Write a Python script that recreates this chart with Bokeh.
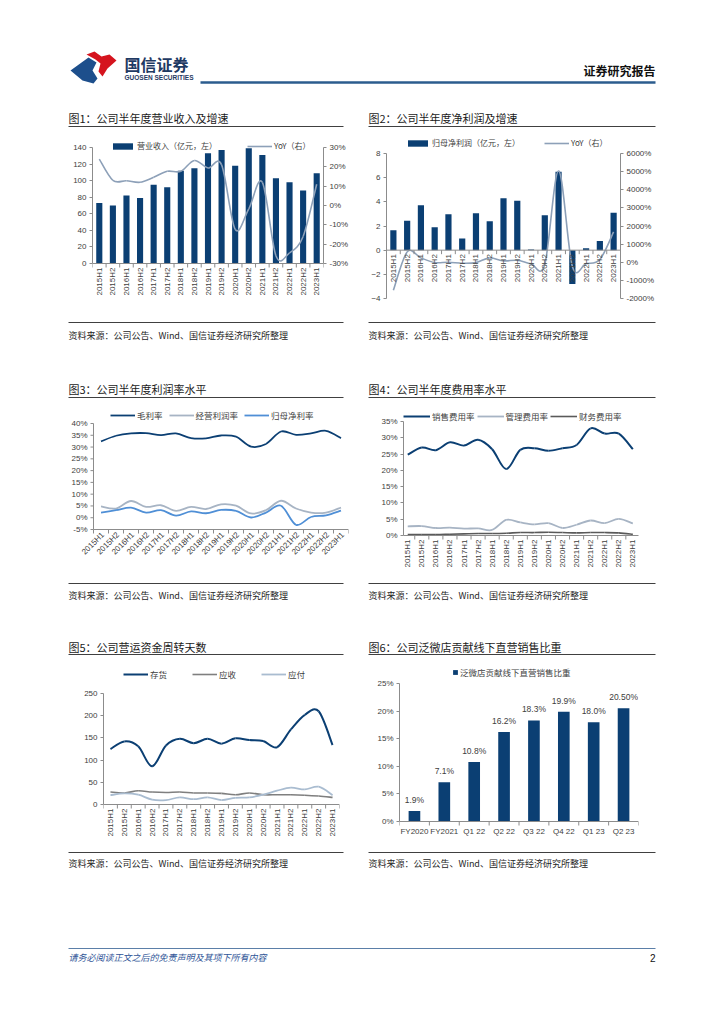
import math
from bokeh.plotting import figure
from bokeh.layouts import column, row
from bokeh.models import (Range1d, LinearAxis, FixedTicker, PrintfTickFormatter,
                          Legend, LegendItem, ColumnDataSource)
from bokeh.embed import file_html
from bokeh.resources import INLINE
from bokeh.core.properties import value

# ---------------- data ----------------
periods = ["2015H1", "2015H2", "2016H1", "2016H2", "2017H1", "2017H2", "2018H1", "2018H2",
           "2019H1", "2019H2", "2020H1", "2020H2", "2021H1", "2021H2", "2022H1", "2022H2", "2023H1"]
revenue = [73, 70, 82, 79, 95, 92, 112, 115, 133, 137, 118, 139, 131, 103, 98, 88, 109]
revenue_yoy = [24, 13, 12.8, 12, 14.6, 17.7, 17.7, 23.3, 19.4, 21, -12.3, -1.7, 12, -26, -24.5, -16, 11]
net_profit = [1.65, 2.43, 3.72, 1.9, 2.98, 0.97, 3.06, 2.4, 4.3, 4.08, 0.06, 2.9, 6.5, -2.8, 0.15, 0.75, 3.1]
net_profit_yoy = [-1545, 570, 240, -20, 0, -55, -20, 240, 75, 110, -90, -110, 5040, -220, -75, 150, 1675]
gross_margin = [32.4, 34.8, 35.8, 35.9, 35.1, 35.8, 33.8, 33.7, 34.9, 34.4, 30.2, 31.3, 36.6, 35.2, 35.8, 36.9, 33.8]
op_margin = [4.8, 3.9, 7.1, 4.6, 5.3, 2.9, 4.6, 3.7, 5.7, 5.1, 1.8, 3.2, 7.2, 3.9, 2.2, 2.2, 4.3]
net_margin = [2.2, 3.2, 4.3, 2.2, 3.2, 0.9, 2.7, 1.9, 3.3, 2.9, 0.1, 2.2, 5.1, -3.0, 0.3, 1.0, 3.0]
margin_ticks = [-5, 0, 5, 10, 15, 20, 25, 30, 35, 40]
selling_ratio = [24.8, 27.0, 26.2, 28.6, 27.6, 29.4, 26.5, 20.4, 26.3, 26.8, 26.0, 26.8, 27.8, 32.9, 31.3, 31.3, 26.5]
admin_ratio = [2.8, 2.9, 2.3, 2.4, 2.1, 2.2, 1.7, 4.8, 4.0, 3.4, 3.8, 2.3, 3.3, 4.6, 3.8, 5.1, 3.7]
fin_ratio = [0.3, 0.3, 0.3, 0.4, 0.5, 0.6, 0.6, 0.7, 0.9, 0.9, 1.0, 0.9, 0.8, 0.9, 0.9, 0.8, 0.4]
inventory_days = [125, 142, 131, 86, 133, 148, 138, 148, 137, 149, 145, 143, 129, 169, 202, 210, 134]
receivable_days = [28, 26, 31, 28, 27, 28, 26, 26, 25, 22, 26, 22, 22, 22, 21, 19, 16]
payable_days = [21, 25, 22, 11, 10, 16, 12, 16, 10, 15, 16, 22, 31, 38, 34, 40, 21]
share_periods = ["FY2020", "FY2021", "Q1 22", "Q2 22", "Q3 22", "Q4 22", "Q1 23", "Q2 23"]
share_values = [1.9, 7.1, 10.8, 16.2, 18.3, 19.9, 18.0, 20.5]
share_labels = ["1.9%", "7.1%", "10.8%", "16.2%", "18.3%", "19.9%", "18.0%", "20.50%"]

NAVY = "#0b3f73"
GRAYBLUE = "#8da0b8"
LIGHTGRAY = "#a7b4c4"
MIDBLUE = "#4f8fd6"
DARKGRAY = "#5a5a5a"
AXIS = "#8c8c8c"
TXT = "#404040"
CJK = "Noto Sans CJK SC"
NUM = "Liberation Sans"

idx = list(range(len(periods)))
sidx = list(range(len(share_periods)))


def smooth_source(ys):
    n = len(ys)
    xs = list(range(n))
    d = {k: [] for k in ["x0", "y0", "x1", "y1", "cx0", "cy0", "cx1", "cy1"]}
    for i in range(n - 1):
        im = max(i - 1, 0)
        ip = min(i + 2, n - 1)
        d["x0"].append(xs[i]); d["y0"].append(ys[i])
        d["x1"].append(xs[i + 1]); d["y1"].append(ys[i + 1])
        d["cx0"].append(xs[i] + (xs[i + 1] - xs[im]) / 6)
        d["cy0"].append(ys[i] + (ys[i + 1] - ys[im]) / 6)
        d["cx1"].append(xs[i + 1] - (xs[ip] - xs[i]) / 6)
        d["cy1"].append(ys[i + 1] - (ys[ip] - ys[i]) / 6)
    return ColumnDataSource(d)


def smooth_line(p, ys, color, width, **kw):
    src = smooth_source(ys)
    return p.bezier(x0="x0", y0="y0", x1="x1", y1="y1", cx0="cx0", cy0="cy0",
                    cx1="cx1", cy1="cy1", source=src, line_color=color, line_width=width, **kw)


def extended(lo, hi, geo):
    # range whose [lo, hi] part occupies data_px pixels, with head/foot pixels of room
    data_px, head, foot = geo
    span = hi - lo
    return Range1d(lo - span * foot / data_px, hi + span * head / data_px)


def chart(w, h, left, right, head, foot, xr, yr, **kw):
    geo = (h - head - foot, head, foot)
    p = figure(width=w, height=h, x_range=Range1d(*xr), y_range=extended(yr[0], yr[1], geo),
               output_backend="svg", toolbar_location=None, x_axis_location=None,
               min_border_left=left, min_border_right=right,
               min_border_top=0, min_border_bottom=0, **kw)
    p.outline_line_color = None
    p.grid.visible = False
    p.background_fill_color = "white"
    p.border_fill_color = "white"
    return p, geo


def style_axis(ax):
    ax.axis_line_color = AXIS
    ax.major_tick_line_color = AXIS
    ax.major_tick_out = 3
    ax.major_tick_in = 0
    ax.minor_tick_line_color = None
    ax.major_label_text_font_size = "8px"
    ax.major_label_text_color = TXT
    ax.major_label_text_font = NUM
    ax.major_label_standoff = 3


def y_axis(ax, lo, hi, step, fmt=None):
    style_axis(ax)
    ax.bounds = (lo, hi)
    ax.ticker = FixedTicker(ticks=list(range(lo, hi + 1, step)))
    if fmt:
        ax.formatter = PrintfTickFormatter(format=fmt)


def cat_axis(p, labels, base, mode):
    n = len(labels)
    p.segment(x0=[-0.5], y0=[base], x1=[n - 0.5], y1=[base], line_color=AXIS, line_width=1)
    p.ray(x=[i - 0.5 for i in range(n + 1)], y=base, length=4, length_units="screen",
          angle=-math.pi / 2, line_color=AXIS, line_width=1)
    common = dict(text_font=value(NUM), text_font_size="8px", text_color=TXT)
    if mode == "vertical":
        p.text(x=list(range(n)), y=[base] * n, text=labels, angle=math.pi / 2, text_align="right",
               text_baseline="middle", y_offset=4, **common)
    elif mode == "diagonal":
        p.text(x=list(range(n)), y=[base] * n, text=labels, angle=math.pi / 4, text_align="right",
               text_baseline="middle", y_offset=4, x_offset=2, **common)
    else:
        p.text(x=list(range(n)), y=[base] * n, text=labels, text_align="center",
               text_baseline="top", y_offset=5, **common)


def make_legend(items, loc, spacing, glyph_w=25, glyph_h=8, size="8px"):
    lg = Legend(items=items, orientation="horizontal", location=loc,
                padding=0, margin=0, spacing=spacing, label_standoff=2,
                glyph_width=glyph_w, glyph_height=glyph_h,
                label_text_font=CJK, label_text_font_size=size, label_text_color=TXT,
                label_height=10, background_fill_alpha=0, border_line_color=None)
    return lg


# ---------------- chart 1 ----------------
p1, geo1 = chart(358, 180, 92, 35, 9, 55, (-0.5, 16.5), (0, 140))
p1.extra_y_ranges = {"yoy": extended(-30, 30, geo1)}
b1 = p1.vbar(x=idx, top=revenue, width=0.45, fill_color=NAVY, line_color=None)
l1 = smooth_line(p1, revenue_yoy, GRAYBLUE, 1.6, y_range_name="yoy")
cat_axis(p1, periods, 0, "vertical")
y_axis(p1.yaxis[0], 0, 140, 20)
ax1r = LinearAxis(y_range_name="yoy")
y_axis(ax1r, -30, 30, 10, "%d%%")
p1.add_layout(ax1r, "right")
p1.add_layout(make_legend([LegendItem(label="营业收入（亿元，左）", renderers=[b1]),
                           LegendItem(label="YoY（右）", renderers=[l1])], (18, 167), 30))

# ---------------- chart 2 ----------------
p2, geo2 = chart(358, 180, 28, 96, 15, 20, (-0.5, 16.5), (-4, 8))
p2.extra_y_ranges = {"yoy": extended(-2000, 6000, geo2)}
b2 = p2.vbar(x=idx, top=net_profit, width=0.45, fill_color=NAVY, line_color=None)
l2 = smooth_line(p2, net_profit_yoy, GRAYBLUE, 1.6, y_range_name="yoy")
cat_axis(p2, periods, 0, "vertical")
y_axis(p2.yaxis[0], -4, 8, 2)
ax2r = LinearAxis(y_range_name="yoy")
y_axis(ax2r, -2000, 6000, 1000, "%d%%")
p2.add_layout(ax2r, "right")
p2.add_layout(make_legend([LegendItem(label="归母净利润（亿元，左）", renderers=[b2]),
                           LegendItem(label="YoY（右）", renderers=[l2])], (19, 170), 24))

# ---------------- chart 3 ----------------
# frame starts at x=60 so the slanted first label is not clipped; y axis drawn at x=-0.5
p3, geo3 = chart(358, 170, 60, 10, 15, 49, (-2.7, 16.5), (-5, 40), y_axis_location=None)
g3a = smooth_line(p3, gross_margin, NAVY, 1.8)
g3b = smooth_line(p3, op_margin, LIGHTGRAY, 1.8)
g3c = smooth_line(p3, net_margin, MIDBLUE, 1.8)
cat_axis(p3, periods, -5, "diagonal")
p3.segment(x0=[-0.5], y0=[margin_ticks[0]], x1=[-0.5], y1=[margin_ticks[-1]], line_color=AXIS)
p3.ray(x=-0.5, y=margin_ticks, length=3, length_units="screen", angle=math.pi, line_color=AXIS)
p3.text(x=[-0.5] * len(margin_ticks), y=margin_ticks, text=[f"{t}%" for t in margin_ticks],
        text_align="right", text_baseline="middle", x_offset=-6,
        text_font=value(NUM), text_font_size="8px", text_color=TXT)
p3.add_layout(make_legend([LegendItem(label="毛利率", renderers=[g3a]),
                           LegendItem(label="经营利润率", renderers=[g3b]),
                           LegendItem(label="归母净利率", renderers=[g3c])], (50, 157), 6,
                          size="8.5px"))

# ---------------- chart 4 ----------------
p4, geo4 = chart(358, 170, 45, 78, 13, 43, (-0.3, 16.4), (0, 35))
g4a = smooth_line(p4, selling_ratio, NAVY, 2)
g4b = smooth_line(p4, admin_ratio, LIGHTGRAY, 1.8)
g4c = smooth_line(p4, fin_ratio, DARKGRAY, 1.6)
cat_axis(p4, periods, 0, "vertical")
y_axis(p4.yaxis[0], 0, 35, 5, "%d%%")
p4.add_layout(make_legend([LegendItem(label="销售费用率", renderers=[g4a]),
                           LegendItem(label="管理费用率", renderers=[g4b]),
                           LegendItem(label="财务费用率", renderers=[g4c])], (0, 156), 2,
                          glyph_w=27, size="8.5px"))

# ---------------- chart 5 ----------------
p5, geo5 = chart(358, 186, 103, 19, 31, 44, (-0.5, 16.5), (0, 250))
g5a = smooth_line(p5, inventory_days, NAVY, 2)
g5b = smooth_line(p5, receivable_days, "#7f7f7f", 1.6)
g5c = smooth_line(p5, payable_days, "#a9bcd0", 1.8)
cat_axis(p5, periods, 0, "vertical")
y_axis(p5.yaxis[0], 0, 250, 50)
p5.add_layout(make_legend([LegendItem(label="存货", renderers=[g5a]),
                           LegendItem(label="应收", renderers=[g5b]),
                           LegendItem(label="应付", renderers=[g5c])], (20, 168), 22,
                          size="8.5px"))

# ---------------- chart 6 ----------------
p6, geo6 = chart(358, 186, 41, 78, 21, 27, (-0.5, 7.5), (0, 25))
b6 = p6.vbar(x=sidx, top=share_values, width=0.39, fill_color=NAVY, line_color=None)
p6.text(x=sidx, y=share_values, text=share_labels, text_align="center", text_baseline="bottom",
        y_offset=-6, text_font=value(NUM), text_font_size="8.5px", text_color=TXT)
cat_axis(p6, share_periods, 0, "horizontal")
y_axis(p6.yaxis[0], 0, 25, 5, "%d%%")
p6.add_layout(make_legend([LegendItem(label="泛微店贡献线下直营销售比重", renderers=[b6])],
                          (53, 170), 0, glyph_w=6, glyph_h=6, size="8.5px"))


# ---------------- page chrome ----------------
def chrome(h, ytop):
    p = figure(width=716, height=h, x_range=Range1d(0, 716), y_range=Range1d(ytop + h, ytop),
               x_axis_type=None, y_axis_type=None, min_border=0,
               output_backend="svg", toolbar_location=None)
    p.outline_line_color = None
    p.grid.visible = False
    return p


def txt(p, x, y, s, size="9px", font=CJK, color="#262626", align="left", style="normal"):
    p.text(x=[x], y=[y], text=[s], text_font=value(font), text_font_size=size,
           text_color=color, text_align=align, text_baseline="middle", text_font_style=style)


def hline(p, x0, x1, y, color="#404040", width=1):
    p.segment(x0=[x0], y0=[y], x1=[x1], y1=[y], line_color=color, line_width=width)


SOURCE = "资料来源：公司公告、Wind、国信证券经济研究所整理"

hdr = chrome(138, 0)
hdr.patch(x=[70, 88, 96, 92, 97, 93, 82], y=[70, 57, 62, 70, 78, 83, 80], fill_color="#1d4f8c",
          line_color=None)
hdr.patch(x=[86, 94, 101, 109, 116, 107, 102, 98, 100, 95], y=[54, 51, 56, 54, 60, 68, 76, 71, 63, 59],
          fill_color="#d5141e", line_color=None)
txt(hdr, 124, 63, "国信证券", size="16px", color="#1f3a63", style="bold")
txt(hdr, 124, 77, "GUOSEN SECURITIES", size="6.5px", font=NUM, color="#1f3a63", style="bold")
txt(hdr, 655, 70, "证券研究报告", size="12px", color="#111111", align="right", style="bold")
hline(hdr, 200, 655, 82, color="#2b5c8e", width=2.5)
txt(hdr, 68, 117, "图1：公司半年度营业收入及增速", size="11px", color="#1a1a1a")
txt(hdr, 368, 117, "图2：公司半年度净利润及增速", size="11px", color="#1a1a1a")
hline(hdr, 68, 343, 126)
hline(hdr, 368, 655, 126)

c1 = chrome(90, 318)
hline(c1, 68, 343, 322)
hline(c1, 368, 655, 322)
txt(c1, 68, 335, SOURCE)
txt(c1, 368, 335, SOURCE)
txt(c1, 68, 388, "图3：公司半年度利润率水平", size="11px", color="#1a1a1a")
txt(c1, 368, 388, "图4：公司半年度费用率水平", size="11px", color="#1a1a1a")
hline(c1, 68, 343, 397)
hline(c1, 368, 655, 397)

c2 = chrome(84, 578)
hline(c2, 68, 343, 583)
hline(c2, 368, 655, 583)
txt(c2, 68, 595, SOURCE)
txt(c2, 368, 595, SOURCE)
txt(c2, 68, 646, "图5：公司营运资金周转天数", size="11px", color="#1a1a1a")
txt(c2, 368, 646, "图6：公司泛微店贡献线下直营销售比重", size="11px", color="#1a1a1a")
hline(c2, 68, 343, 654)
hline(c2, 368, 655, 654)

ft = chrome(168, 848)
hline(ft, 68, 343, 852)
hline(ft, 368, 655, 852)
txt(ft, 68, 863, SOURCE)
txt(ft, 368, 863, SOURCE)
hline(ft, 68, 655, 948, color="#5b7fa8", width=1)
txt(ft, 68, 957, "请务必阅读正文之后的免责声明及其项下所有内容", size="9px", color="#2f5597",
    style="italic")
txt(ft, 655, 957, "2", size="10px", font=NUM, color="#111111", align="right")

page = column(hdr, row(p1, p2), c1, row(p3, p4), c2, row(p5, p6), ft)
open("out.html", "w").write(file_html(page, INLINE))
